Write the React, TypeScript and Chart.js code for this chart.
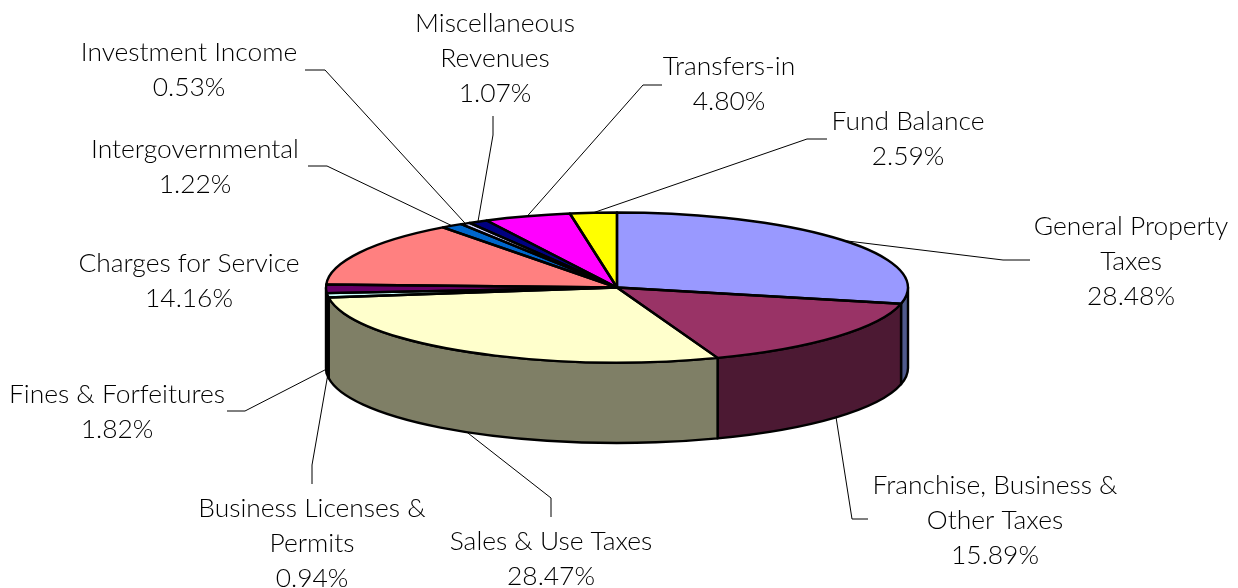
import React, { useEffect, useRef } from "react";
import { Chart, registerables } from "chart.js";

Chart.register(...registerables);

const categories = [
  "General Property Taxes",
  "Franchise, Business & Other Taxes",
  "Sales & Use Taxes",
  "Business Licenses & Permits",
  "Fines & Forfeitures",
  "Charges for Service",
  "Intergovernmental",
  "Investment Income",
  "Miscellaneous Revenues",
  "Transfers-in",
  "Fund Balance",
];
const values = [28.48, 15.89, 28.47, 0.94, 1.82, 14.16, 1.22, 0.53, 1.07, 4.8, 2.59];
const topColors = ["#9999FF", "#993366", "#FFFFCC", "#CCFFFF", "#660066", "#FF8080", "#0066CC", "#CCCCFF", "#000080", "#FF00FF", "#FFFF00"];
const wallColors = ["#4F5A8C", "#4C1933", "#7F7F66", "#667F7F", "#330033", "#7F4040", "#003366", "#66667F", "#000040", "#7F007F", "#7F7F00"];
const labelLines = [
  ["General Property", "Taxes", "28.48%"],
  ["Franchise, Business &", "Other Taxes", "15.89%"],
  ["Sales & Use Taxes", "28.47%"],
  ["Business Licenses &", "Permits", "0.94%"],
  ["Fines & Forfeitures", "1.82%"],
  ["Charges for Service", "14.16%"],
  ["Intergovernmental", "1.22%"],
  ["Investment Income", "0.53%"],
  ["Miscellaneous", "Revenues", "1.07%"],
  ["Transfers-in", "4.80%"],
  ["Fund Balance", "2.59%"],
];

// layout of the labels: text centre x, first-line centre y
const labelAnchors = [
  [1131, 226], [995, 485], [551, 541], [312, 508], [117, 394], [189, 263],
  [195, 149], [189, 52], [495, 23], [729, 66], [908, 121],
];
// leader elbows (empty = no leader)
const leaderPaths: number[][][] = [
  [[1003, 260], [1030, 260]],
  [[852, 519], [868, 519]],
  [[551, 498], [551, 517]],
  [[312, 465], [312, 484]],
  [[245, 411], [227, 411]],
  [],
  [[327, 166], [308, 166]],
  [[325, 70], [305, 70]],
  [[493, 135], [493, 116]],
  [[643, 85], [662, 85]],
  [[807, 139], [827, 139]],
];

const SQUASH = 75 / 291;
const DEPTH = 80.5;
const LINE_H = 35.2;
const FONT = '300 26.4px "Lato"';

const pie3d = {
  id: "pie3d",
  beforeDatasetsDraw(chart: any) {
    const { ctx } = chart;
    const arcs = chart.getDatasetMeta(0).data;
    const cx = arcs[0].x;
    const cy = arcs[0].y;
    const rx = arcs[0].outerRadius;
    const ry = rx * SQUASH;

    ctx.save();
    ctx.strokeStyle = "#000";
    ctx.lineWidth = 2.4;
    ctx.lineJoin = "round";
    arcs.forEach((arc: any, i: number) => {
      const a = Math.max(arc.startAngle, 0);
      const b = Math.min(arc.endAngle, Math.PI);
      if (b <= a) return;
      ctx.beginPath();
      ctx.ellipse(cx, cy, rx, ry, 0, a, b);
      ctx.ellipse(cx, cy + DEPTH, rx, ry, 0, b, a, true);
      ctx.closePath();
      ctx.fillStyle = wallColors[i];
      ctx.fill();
      ctx.stroke();
    });
    ctx.restore();

    ctx.save();
    ctx.translate(0, cy);
    ctx.scale(1, SQUASH);
    ctx.translate(0, -cy);
  },
  afterDatasetsDraw(chart: any) {
    const { ctx } = chart;
    ctx.restore();
    const arcs = chart.getDatasetMeta(0).data;
    const cx = arcs[0].x;
    const cy = arcs[0].y;
    const rx = arcs[0].outerRadius;
    const ry = rx * SQUASH;

    ctx.save();
    ctx.strokeStyle = "#000";
    ctx.lineWidth = 2.4;
    ctx.lineJoin = "round";
    arcs.forEach((arc: any) => {
      ctx.beginPath();
      ctx.moveTo(cx, cy);
      ctx.ellipse(cx, cy, rx, ry, 0, arc.startAngle, arc.endAngle);
      ctx.closePath();
      ctx.stroke();
    });

    ctx.strokeStyle = "#000";
    ctx.lineWidth = 1;
    arcs.forEach((arc: any, i: number) => {
      const path = leaderPaths[i];
      if (!path.length) return;
      const mid = (arc.startAngle + arc.endAngle) / 2;
      const front = mid > 0 && mid < Math.PI;
      const sx = cx + rx * Math.cos(mid);
      const sy = cy + ry * Math.sin(mid) + (front ? DEPTH : 0);
      ctx.beginPath();
      ctx.moveTo(sx, sy);
      path.forEach(([x, y]) => ctx.lineTo(x, y));
      ctx.stroke();
    });

    ctx.fillStyle = "#000";
    ctx.font = FONT;
    ctx.textAlign = "center";
    ctx.textBaseline = "middle";
    labelLines.forEach((lines, i) => {
      const [x, y] = labelAnchors[i];
      lines.forEach((line, j) => ctx.fillText(line, x, y + j * LINE_H));
    });
    ctx.restore();
  },
};

export default function App() {
  const ref = useRef<HTMLCanvasElement>(null);
  useEffect(() => {
    const chart = new Chart(ref.current as HTMLCanvasElement, {
      type: "pie",
      data: {
        labels: categories,
        datasets: [
          {
            data: values,
            backgroundColor: topColors,
            borderWidth: 0,
            clip: false,
          } as any,
        ],
      },
      options: {
        animation: false,
        responsive: false,
        radius: 291,
        layout: { padding: { left: 0, right: 4, top: 0, bottom: 13 } },
        plugins: { legend: { display: false }, tooltip: { enabled: false } },
      } as any,
      plugins: [pie3d],
    });
    return () => chart.destroy();
  }, []);
  return (
    <div style={{ position: "absolute", left: 0, top: 0, width: 1238, height: 588, background: "#fff" }}>
      <canvas ref={ref} width={1238} height={588} style={{ display: "block" }} />
    </div>
  );
}
